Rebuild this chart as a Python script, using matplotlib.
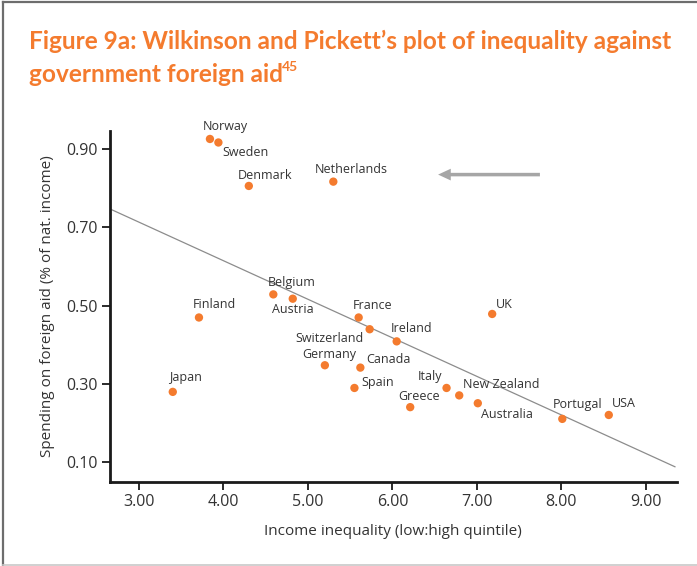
import matplotlib.pyplot as plt
from matplotlib.patches import FancyArrow
from matplotlib.lines import Line2D

# data
paises = ["Norway", "Sweden", "Denmark", "Netherlands", "Belgium", "Austria",
          "Finland", "Japan", "France", "Switzerland", "Ireland", "Germany",
          "Canada", "Spain", "Greece", "Italy", "New Zealand", "Australia",
          "UK", "Portugal", "USA"]
desigualdad = [3.84, 3.94, 4.30, 5.30, 4.59, 4.82,
               3.71, 3.40, 5.60, 5.73, 6.05, 5.20,
               5.62, 5.55, 6.21, 6.64, 6.79, 7.01,
               7.18, 8.01, 8.56]
ayuda = [0.926, 0.917, 0.806, 0.817, 0.529, 0.518,
         0.470, 0.280, 0.470, 0.440, 0.409, 0.348,
         0.342, 0.290, 0.241, 0.290, 0.271, 0.251,
         0.479, 0.211, 0.221]
x_ticks = [3, 4, 5, 6, 7, 8, 9]
y_ticks = [0.10, 0.30, 0.50, 0.70, 0.90]

# fitted line (intercept, slope) as drawn
INTERCEPTO = 1.009
PENDIENTE = -0.0985

# label offsets in pixels (dx, dy) from each dot
offsets = {
    "Norway": (15, 12), "Sweden": (27, -10), "Denmark": (16, 10),
    "Netherlands": (18, 12), "Belgium": (18, 12), "Austria": (0, -11),
    "Finland": (15, 13), "Japan": (13, 14), "France": (14, 12),
    "Switzerland": (-40, -9), "Ireland": (15, 13), "Germany": (4, 11),
    "Canada": (28, 8), "Spain": (23, 5), "Greece": (9, 11),
    "Italy": (-17, 11), "New Zealand": (42, 11), "Australia": (29, -11),
    "UK": (12, 9), "Portugal": (15, 14), "USA": (15, 11),
}

NARANJA = "#F47B2E"
FUENTE = "Open Sans"

fig = plt.figure(figsize=(6.97, 5.66), dpi=100)
fig.patch.set_facecolor("white")

# frame around the figure (left/top dark, bottom light)
fig.add_artist(Line2D([0.005, 0.005], [0.002, 0.996], transform=fig.transFigure, color="#6d6d6d", lw=1.6))
fig.add_artist(Line2D([0.005, 1.0], [0.996, 0.996], transform=fig.transFigure, color="#6d6d6d", lw=1.6))
fig.add_artist(Line2D([0.005, 1.0], [0.002, 0.002], transform=fig.transFigure, color="#c8c8c8", lw=1.2))

fig.text(0.042, 0.913, "Figure 9a: Wilkinson and Pickett\u2019s plot of inequality against",
         color=NARANJA, fontsize=17.6, fontweight="bold", family="Lato", va="baseline")
t2 = fig.text(0.042, 0.856, "government foreign aid",
              color=NARANJA, fontsize=17.6, fontweight="bold", family="Lato", va="baseline")
# superscript footnote number right after line 2
fig.canvas.draw()
bb = t2.get_window_extent().transformed(fig.transFigure.inverted())
fig.text(bb.x1 - 0.002, 0.874, "45", color=NARANJA, fontsize=10, fontweight="bold",
         family="Lato", va="baseline")

ax = fig.add_axes([0.1578, 0.1489, 0.9709 - 0.1578, 0.769 - 0.1489])
ax.set_xlim(2.657, 9.364)
ax.set_ylim(0.0505, 0.947)

xs = [ax.get_xlim()[0], 9.343]
ax.plot(xs, [INTERCEPTO + PENDIENTE * v for v in xs], color="#8c8c8c", lw=0.9, zorder=1)

ax.scatter(desigualdad, ayuda, s=36, color=NARANJA, edgecolors="none", zorder=3)
for p, x, y in zip(paises, desigualdad, ayuda):
    dx, dy = offsets[p]
    ax.annotate(p, (x, y), xytext=(dx, dy), textcoords="offset pixels",
                ha="center", va="center", fontsize=9, family=FUENTE, color="#333333")

ax.add_patch(FancyArrow(7.745, 0.835, 6.54 - 7.745, 0, width=0.009, head_width=0.03,
                        head_length=0.15, length_includes_head=True,
                        color="#a6a6a6", ec="none"))

for s in ["top", "right"]:
    ax.spines[s].set_visible(False)
for s in ["left", "bottom"]:
    ax.spines[s].set_linewidth(2)
    ax.spines[s].set_color("#1a1a1a")

ax.set_xticks(x_ticks)
ax.set_xticklabels([f"{v:.2f}" for v in x_ticks])
ax.set_yticks(y_ticks)
ax.set_yticklabels([f"{v:.2f}" for v in y_ticks])
ax.tick_params(length=6, width=1.3, color="#1a1a1a", labelsize=11.5, labelcolor="#333333", pad=3)
for t in ax.get_xticklabels() + ax.get_yticklabels():
    t.set_family(FUENTE)

ax.set_xlabel("Income inequality (low:high quintile)", fontsize=11, family=FUENTE, color="#333333", labelpad=10)
ax.set_ylabel("Spending on foreign aid (% of nat. income)", fontsize=11, family=FUENTE, color="#333333", labelpad=8)

plt.savefig("out.png", dpi=100)
